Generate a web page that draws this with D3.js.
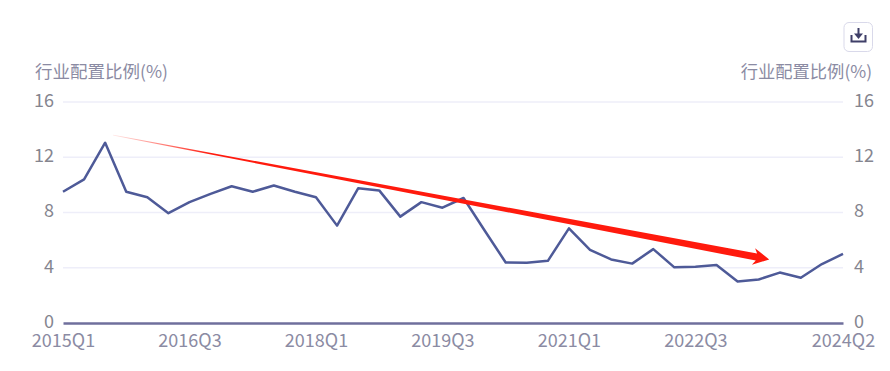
<!DOCTYPE html>
<html>
<head>
    <meta charset="utf-8">
    <script src="https://d3js.org/d3.v7.min.js"></script>
    <style>
        html, body { margin: 0; padding: 0; background: #fff; }
        svg { display: block; }
        text { font-family: 'Noto Sans CJK SC', 'Noto Sans', sans-serif; }
    </style>
</head>
<body>
<div id="chart"></div>
<script>
// quarters shown on the x axis and the read-off allocation values
const quarters = ["2015Q1","2015Q2","2015Q3","2015Q4","2016Q1","2016Q2","2016Q3","2016Q4",
  "2017Q1","2017Q2","2017Q3","2017Q4","2018Q1","2018Q2","2018Q3","2018Q4",
  "2019Q1","2019Q2","2019Q3","2019Q4","2020Q1","2020Q2","2020Q3","2020Q4",
  "2021Q1","2021Q2","2021Q3","2021Q4","2022Q1","2022Q2","2022Q3","2022Q4",
  "2023Q1","2023Q2","2023Q3","2023Q4","2024Q1","2024Q2"];
const ratio = [9.5,10.4,13.05,9.5,9.1,7.95,8.75,9.35,
  9.9,9.5,9.95,9.5,9.1,7.05,9.75,9.6,
  7.7,8.75,8.35,9.05,6.7,4.38,4.36,4.5,
  6.85,5.3,4.6,4.3,5.35,4.03,4.07,4.2,
  3.0,3.15,3.65,3.28,4.27,5.0];
const xLabels = ["2015Q1","2016Q3","2018Q1","2019Q3","2021Q1","2022Q3","2024Q2"];
const yTicks = [0,4,8,12,16];
const axisTitle = "行业配置比例(%)";
// trend arrow: start and end as [quarter position, value]
const trendFrom = [2.38, 13.6];
const trendTo = [33.5, 4.6];

const width = 890, height = 371;
const margin = {top: 102, right: 47, bottom: 48, left: 63};

const svg = d3.select("#chart").append("svg")
    .attr("width", width)
    .attr("height", height);

const x = d3.scalePoint().domain(quarters).range([margin.left, width - margin.right]);
const y = d3.scaleLinear().domain([0, 16]).range([height - margin.bottom, margin.top]);
const xPos = d3.scaleLinear().domain([0, quarters.length - 1]).range(x.range());

// grid lines
svg.append("g")
  .selectAll("line")
  .data(yTicks.filter(d => d > 0))
  .join("line")
    .attr("x1", margin.left)
    .attr("x2", width - margin.right)
    .attr("y1", d => y(d))
    .attr("y2", d => y(d))
    .attr("stroke", "#eeeef9")
    .attr("stroke-width", 1.5);

// left and right value axes
const styleY = g => {
  g.select(".domain").remove();
  g.selectAll(".tick line").remove();
  g.selectAll("text").attr("font-size", 18).attr("fill", "#85858f").attr("y", -1.5);
};
svg.append("g")
    .attr("transform", `translate(${margin.left},0)`)
    .call(d3.axisLeft(y).tickValues(yTicks).tickSize(0).tickPadding(9))
    .call(styleY);
svg.append("g")
    .attr("transform", `translate(${width - margin.right},0)`)
    .call(d3.axisRight(y).tickValues(yTicks).tickSize(0).tickPadding(11))
    .call(styleY);

// bottom axis
svg.append("g")
    .attr("transform", `translate(0,${height - margin.bottom})`)
    .call(d3.axisBottom(x).tickValues(xLabels).tickSize(0).tickPadding(11))
    .call(g => {
      g.select(".domain").attr("stroke", "#6f6f9c").attr("stroke-width", 2.5);
      g.selectAll("text").attr("font-size", 18).attr("fill", "#8b8ba3");
    });

svg.append("text")
    .attr("x", 35).attr("y", 78)
    .attr("font-size", 17.5).attr("fill", "#8b8ba3")
    .text(axisTitle);
svg.append("text")
    .attr("x", 872).attr("y", 78)
    .attr("text-anchor", "end")
    .attr("font-size", 17.3).attr("fill", "#8b8ba3")
    .text(axisTitle);

// series line
svg.append("path")
    .datum(ratio)
    .attr("fill", "none")
    .attr("stroke", "#4e5a98")
    .attr("stroke-width", 2.5)
    .attr("stroke-linejoin", "round")
    .attr("d", d3.line().x((d, i) => x(quarters[i])).y(d => y(d)));

// tapered arrow on top of the line, fading out at its tail
const ax0 = xPos(trendFrom[0]), ay0 = y(trendFrom[1]);
const ax1 = xPos(trendTo[0]), ay1 = y(trendTo[1]);
const len = Math.hypot(ax1 - ax0, ay1 - ay0);
const grad = svg.append("defs").append("linearGradient")
    .attr("id", "trend")
    .attr("gradientUnits", "userSpaceOnUse")
    .attr("x1", ax0).attr("y1", ay0)
    .attr("x2", ax1).attr("y2", ay1);
grad.append("stop").attr("offset", 0).attr("stop-color", "#ff1a0d").attr("stop-opacity", 0.1);
grad.append("stop").attr("offset", 0.15).attr("stop-color", "#ff1a0d").attr("stop-opacity", 1);
grad.append("stop").attr("offset", 1).attr("stop-color", "#ff1a0d");

const along = (t, off) => {
  const ux = (ax1 - ax0) / len, uy = (ay1 - ay0) / len;
  return [ax0 + ux * t - uy * off, ay0 + uy * t + ux * off];
};
svg.append("path")
    .attr("fill", "url(#trend)")
    .attr("d", d3.line()([
      along(0, -0.3),
      along(len - 13, -3.6),
      along(len - 16, -8.5),
      along(len, 0),
      along(len - 16, 8.5),
      along(len - 13, 3.6),
      along(0, 0.3)
    ]) + "Z");

// download button
const btn = svg.append("g").attr("transform", "translate(844,22)");
btn.append("rect")
    .attr("x", 0).attr("y", 0.5)
    .attr("width", 28.5).attr("height", 29).attr("rx", 5)
    .attr("fill", "#fff").attr("stroke", "#d9d9ea");
btn.append("path")
    .attr("fill", "none")
    .attr("stroke", "#3f3f68")
    .attr("stroke-width", 2)
    .attr("d", "M7.5 13V19.5H21.5V13M14.5 6V13");
btn.append("path")
    .attr("fill", "#3f3f68")
    .attr("d", "M10 11.5H19L14.5 17Z");
</script>
</body>
</html>
